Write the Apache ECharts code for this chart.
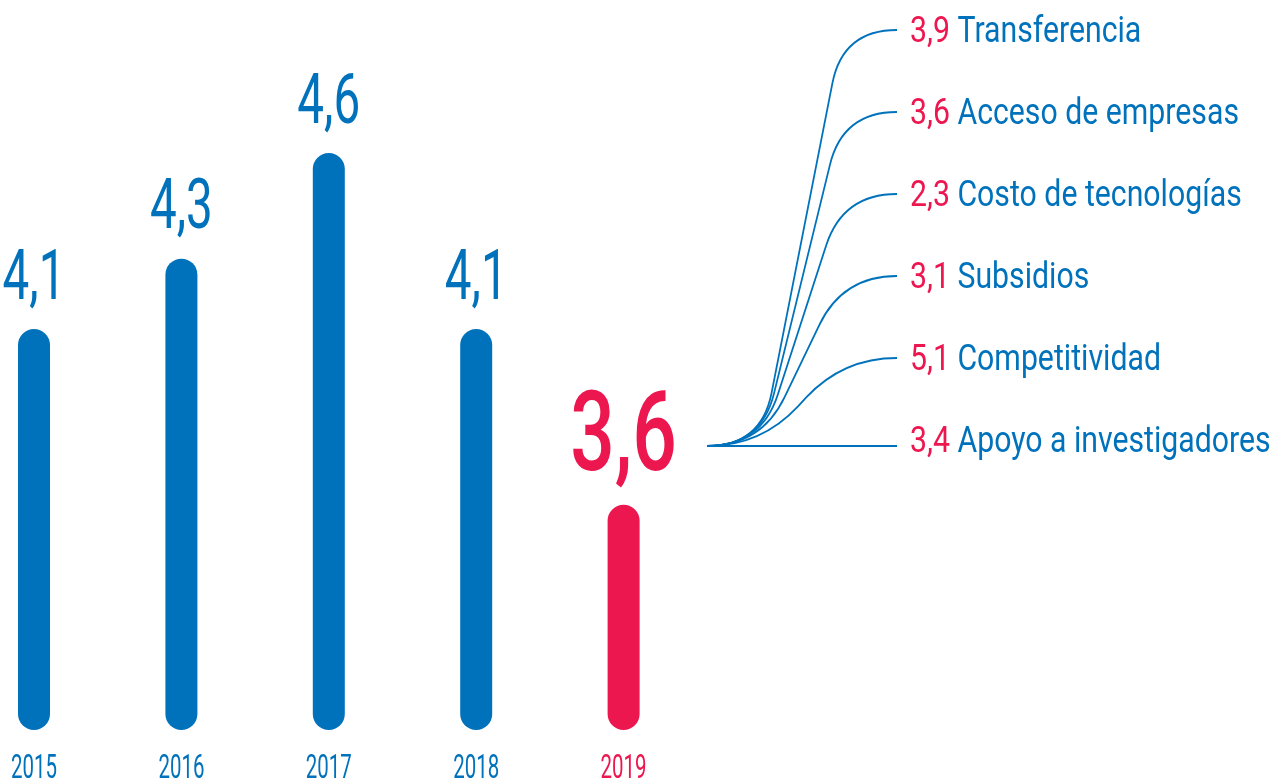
<!DOCTYPE html>
<html>
<head>
<meta charset="utf-8">
<script src="https://cdn.jsdelivr.net/npm/echarts@6/dist/echarts.min.js"></script>
<style>
html,body{margin:0;padding:0;background:#ffffff;}
#chart{width:1283px;height:780px;}
</style>
</head>
<body>
<div id="chart"></div>
<script>
// ---- data ----
const years = ['2015', '2016', '2017', '2018', '2019'];
const values = [4.1, 4.3, 4.6, 4.1, 3.6];
const factorNames = ['Transferencia', 'Acceso de empresas', 'Costo de tecnologías', 'Subsidios', 'Competitividad', 'Apoyo a investigadores'];
const factorValues = [3.9, 3.6, 2.3, 3.1, 5.1, 3.4];

// ---- style ----
const BLUE = '#0072bc';
const RED = '#ed1750';
const FONT = 'Roboto';
const fmt = v => v.toFixed(1).replace('.', ',');
const last = values.length - 1;
const Y_MIN = 2.96, Y_MAX = 4.95;

const chart = echarts.init(document.getElementById('chart'), null, {renderer: 'canvas'});

// smooth connector: rounded corner, straight middle, rounded corner
function connectorPath(s, e) {
  const dx = e[0] - s[0];
  const h = 0.285 * dx;
  const c1 = [s[0] + h, s[1]];
  const c2 = [e[0] - h, e[1]];
  const vx = c2[0] - c1[0], vy = c2[1] - c1[1];
  const len = Math.sqrt(vx * vx + vy * vy);
  const d = Math.min(h, len / 2);
  const ux = vx / len, uy = vy / len;
  const b1 = [c1[0] + d * ux, c1[1] + d * uy];
  const b2 = [c2[0] - d * ux, c2[1] - d * uy];
  return 'M' + s[0] + ' ' + s[1] +
    ' Q' + c1[0] + ' ' + c1[1] + ' ' + b1[0] + ' ' + b1[1] +
    ' L' + b2[0] + ' ' + b2[1] +
    ' Q' + c2[0] + ' ' + c2[1] + ' ' + e[0] + ' ' + e[1];
}

const option = {
  animation: false,
  backgroundColor: '#ffffff',
  grid: [
    {left: 34, width: 589.6, top: 30, bottom: 50},
    {left: 707, right: 386, top: 30, bottom: 340}
  ],
  xAxis: [
    {gridIndex: 0, type: 'category', data: years, boundaryGap: false, show: false},
    {gridIndex: 1, type: 'value', min: 0, max: 1, show: false}
  ],
  yAxis: [
    {gridIndex: 0, type: 'value', min: Y_MIN, max: Y_MAX, show: false},
    {gridIndex: 1, type: 'category', data: factorNames, inverse: true, boundaryGap: false, show: false}
  ],
  series: [
    {
      type: 'bar',
      xAxisIndex: 0, yAxisIndex: 0,
      barWidth: 32,
      data: values,
      itemStyle: {
        borderRadius: 16,
        color: p => (p.dataIndex === last ? RED : BLUE)
      }
    },
    {
      // value labels above bars + year labels below
      type: 'custom',
      xAxisIndex: 0, yAxisIndex: 0,
      clip: false,
      data: values.map((v, i) => [i, v]),
      encode: {x: 0, y: 1},
      renderItem: function (params, api) {
        const i = api.value(0);
        const v = api.value(1);
        const top = api.coord([i, v]);
        const base = api.coord([i, Y_MIN]);
        const isLast = i === last;
        const size = isLast ? 112 : 70;
        const col = isLast ? RED : BLUE;
        return {
          type: 'group',
          children: [
            {
              type: 'text',
              x: top[0], y: top[1] - 23 - 0.355 * size,
              scaleX: isLast ? 0.7 : 0.68,
              style: {
                text: fmt(v), fill: col, fontFamily: FONT,
                fontSize: size, fontWeight: isLast ? 500 : 400,
                align: 'center', verticalAlign: 'middle'
              }
            },
            {
              type: 'text',
              x: base[0], y: base[1] + 40,
              scaleX: 0.62,
              style: {
                text: years[i], fill: col, fontFamily: FONT,
                fontSize: 33, fontWeight: 400,
                align: 'center', verticalAlign: 'middle'
              }
            }
          ]
        };
      }
    },
    {
      // connector curves + factor labels
      type: 'custom',
      xAxisIndex: 1, yAxisIndex: 1,
      clip: false,
      data: factorNames.map((n, i) => [1, i, factorValues[i]]),
      encode: {x: 0, y: 1},
      renderItem: function (params, api) {
        const i = api.value(1);
        const n = factorNames.length - 1;
        const start = api.coord([0, n]);
        start[1] += 6;
        const lab = api.coord([1, i]);
        const end = [lab[0], i === n ? start[1] : lab[1]];
        return {
          type: 'group',
          children: [
            {
              type: 'path',
              shape: {pathData: connectorPath(start, end)},
              style: {stroke: BLUE, lineWidth: 1.8, fill: null}
            },
            {
              type: 'text',
              x: end[0] + 13, y: lab[1] + 3,
              scaleX: 0.84,
              style: {
                text: '{n|' + fmt(api.value(2)) + '} {t|' + factorNames[i] + '}',
                fill: BLUE, fontFamily: FONT, fontSize: 36,
                align: 'left', verticalAlign: 'middle',
                rich: {
                  n: {fill: RED, fontFamily: FONT, fontSize: 36},
                  t: {fill: BLUE, fontFamily: FONT, fontSize: 36}
                }
              }
            }
          ]
        };
      }
    }
  ]
};

chart.setOption(option);
</script>
</body>
</html>
